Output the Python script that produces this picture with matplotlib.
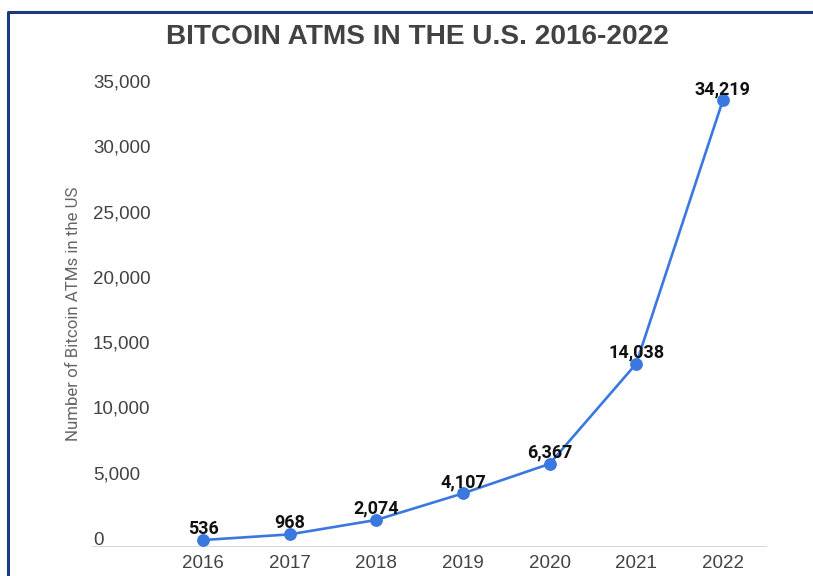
import matplotlib.pyplot as plt
from matplotlib.lines import Line2D
from matplotlib.transforms import ScaledTranslation

# Bitcoin ATM counts in the U.S. by year
years = ["2016", "2017", "2018", "2019", "2020", "2021", "2022"]
atm_counts = [536, 968, 2074, 4107, 6367, 14038, 34219]
y_ticks = [0, 5000, 10000, 15000, 20000, 25000, 30000, 35000]

line_color = "#3a78e0"
text_gray = "#424242"

fig = plt.figure(figsize=(8.13, 5.76), dpi=100)
ax = fig.add_axes([0.1132, 0.0503, 0.8303, 0.7934])

x = list(range(len(years)))
ax.plot(x, atm_counts, color=line_color, linewidth=1.9, marker="o",
        markersize=8.2, clip_on=False, zorder=3)

for xi, val in zip(x, atm_counts):
    ax.annotate(f"{val:,}", (xi, val), xytext=(0, 4.5), textcoords="offset points",
                ha="center", va="baseline", fontsize=13, fontweight="bold",
                family="Roboto", color="#111111", zorder=4)

ax.set_xlim(-1.28, 6.51)
ax.set_ylim(0, 35000)
ax.set_xticks(x)
ax.set_xticklabels(years)
ax.set_yticks(y_ticks)
ax.set_yticklabels([f"{t:,}" for t in y_ticks])

for spine in ax.spines.values():
    spine.set_visible(False)
ax.axhline(0, color="#d0d0d0", linewidth=1.2, zorder=1)

ax.tick_params(axis="both", length=0, labelsize=13.5, labelcolor=text_gray)
ax.tick_params(axis="x", pad=6)
ax.tick_params(axis="y", pad=0)
for lbl in ax.get_yticklabels():
    lbl.set_horizontalalignment("left")
    lbl.set_transform(lbl.get_transform() + ScaledTranslation(0.01, 0.09, fig.dpi_scale_trans))
for lbl in ax.get_xticklabels() + ax.get_yticklabels():
    lbl.set_family("Liberation Sans")

fig.text(0.0898, 0.456, "Number of Bitcoin ATMs in the US", rotation=90,
         ha="center", va="center", fontsize=12.2, color="#666666",
         family="Roboto")

fig.text(0.513, 0.935, "BITCOIN ATMS IN THE U.S. 2016-2022", ha="center",
         va="center", fontsize=20.2, fontweight="bold", color=text_gray,
         family="Liberation Sans")

# navy frame along the top and left edges
fig.add_artist(Line2D([8 / 813, 8 / 813, 1.01], [-0.01, 1 - 12 / 576, 1 - 12 / 576],
                      transform=fig.transFigure, color="#1b3a86", linewidth=2.2))

fig.savefig("out.png", dpi=100)
